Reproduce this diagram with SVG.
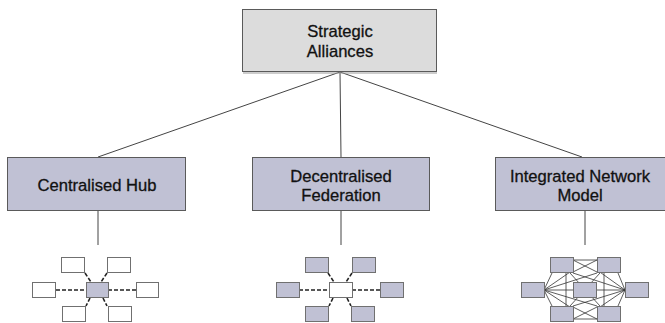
<svg xmlns="http://www.w3.org/2000/svg" width="665" height="323" viewBox="0 0 665 323">
  <style>
    .lbl { font-family: "Liberation Sans", Arial, sans-serif; font-size: 16.6px; fill: #111; stroke: #111; stroke-width: 0.3; text-anchor: middle; }
    .top { fill: #dcdcdc; stroke: #5a5a5a; stroke-width: 1; }
    .model { fill: #c0c1d4; stroke: #5a5a5a; stroke-width: 1; }
    .link { stroke: #444; stroke-width: 1; fill: none; }
    .mini-w { fill: #ffffff; stroke: #707070; stroke-width: 1; }
    .mini-f { fill: #c0c1d4; stroke: #707070; stroke-width: 1; }
    .dash { stroke: #222; stroke-width: 1.6; stroke-dasharray: 4 2; fill: none; }
    .mesh { stroke: #333; stroke-width: 0.8; fill: none; }
  </style>

  <rect width="665" height="323" fill="#ffffff"/>

  <!-- tree connectors -->
  <g id="connectors">
    <line class="link" x1="340" y1="72" x2="98" y2="157"/>
    <line class="link" x1="340" y1="72" x2="341" y2="157"/>
    <line class="link" x1="340" y1="72" x2="582" y2="157"/>
    <line class="link" x1="98" y1="211" x2="98" y2="245"/>
    <line class="link" x1="341" y1="211" x2="341" y2="245"/>
    <line class="link" x1="585" y1="211" x2="585" y2="245"/>
  </g>

  <g id="strategic-alliances">
    <line x1="243" y1="73" x2="437" y2="73" stroke="#9a9a9a" stroke-width="1"/>
    <rect class="top" x="242.5" y="9.5" width="194" height="62"/>
    <text class="lbl" x="340" y="37">Strategic</text>
    <text class="lbl" x="340" y="57">Alliances</text>
  </g>

  <g id="centralised-hub">
    <rect class="model" x="7.5" y="157.5" width="178" height="53"/>
    <text class="lbl" x="97" y="191">Centralised Hub</text>
  </g>

  <g id="decentralised-federation">
    <rect class="model" x="252.5" y="157.5" width="177" height="53"/>
    <text class="lbl" x="341" y="182">Decentralised</text>
    <text class="lbl" x="341" y="201">Federation</text>
  </g>

  <g id="integrated-network-model">
    <rect class="model" x="495.5" y="157.5" width="172" height="53"/>
    <text class="lbl" x="580" y="182">Integrated Network</text>
    <text class="lbl" x="580" y="201">Model</text>
  </g>

  <!-- hub: shaded centre, white satellites -->
  <g id="hub-sketch">
    <line class="dash" x1="56" y1="290" x2="86" y2="290"/>
    <line class="dash" x1="108" y1="290" x2="136" y2="290"/>
    <line class="dash" x1="85" y1="273" x2="91" y2="282"/>
    <line class="dash" x1="107" y1="273" x2="101" y2="282"/>
    <line class="dash" x1="90" y1="298" x2="86" y2="306"/>
    <line class="dash" x1="103" y1="298" x2="107" y2="306"/>
    <rect class="mini-w" x="61.5" y="257.5" width="23" height="15"/>
    <rect class="mini-w" x="107.5" y="257.5" width="23" height="15"/>
    <rect class="mini-w" x="32.5" y="282.5" width="23" height="15"/>
    <rect class="mini-f" x="86.5" y="282.5" width="22" height="15"/>
    <rect class="mini-w" x="136.5" y="282.5" width="22" height="15"/>
    <rect class="mini-w" x="62.5" y="306.5" width="23" height="15"/>
    <rect class="mini-w" x="108.5" y="306.5" width="23" height="15"/>
  </g>

  <!-- federation: white centre, shaded members -->
  <g id="federation-sketch">
    <line class="dash" x1="299" y1="290" x2="329" y2="290"/>
    <line class="dash" x1="352" y1="290" x2="380" y2="290"/>
    <line class="dash" x1="328" y1="273" x2="334" y2="282"/>
    <line class="dash" x1="352" y1="273" x2="346" y2="282"/>
    <line class="dash" x1="333" y1="298" x2="329" y2="306"/>
    <line class="dash" x1="347" y1="298" x2="351" y2="306"/>
    <rect class="mini-f" x="305.5" y="257.5" width="23" height="15"/>
    <rect class="mini-f" x="352.5" y="257.5" width="23" height="15"/>
    <rect class="mini-f" x="276.5" y="282.5" width="23" height="15"/>
    <rect class="mini-w" x="329.5" y="282.5" width="23" height="15"/>
    <rect class="mini-f" x="380.5" y="282.5" width="23" height="15"/>
    <rect class="mini-f" x="305.5" y="306.5" width="23" height="15"/>
    <rect class="mini-f" x="351.5" y="306.5" width="23" height="15"/>
  </g>

  <!-- integrated network: every member linked -->
  <g id="network-sketch">
    <g class="mesh">
      <!-- fans from the left and right members -->
      <path d="M544 290 L552 273 M544 290 L573 270 M544 290 L597 273 M544 290 L573 290 M544 290 L552 306 M544 290 L573 309 M544 290 L597 306"/>
      <path d="M625 290 L618 273 M625 290 L597 270 M625 290 L573 273 M625 290 L597 290 M625 290 L618 306 M625 290 L597 309 M625 290 L573 306"/>
      <!-- top pair and bottom pair -->
      <path d="M573 260 L597 260 M573 260 L597 272 M573 272 L597 260"/>
      <path d="M573 319 L597 319 M573 319 L597 307 M573 307 L597 319"/>
      <!-- vertical and crossing links through the middle -->
      <path d="M566 273 L566 306 M604 273 L604 306 M570 273 L600 306 M600 273 L570 306"/>
    </g>
    <rect class="mini-f" x="550.5" y="257.5" width="23" height="15"/>
    <rect class="mini-f" x="597.5" y="257.5" width="23" height="15"/>
    <rect class="mini-f" x="521.5" y="282.5" width="23" height="15"/>
    <rect class="mini-f" x="573.5" y="282.5" width="23" height="15"/>
    <rect class="mini-f" x="625.5" y="282.5" width="23" height="15"/>
    <rect class="mini-f" x="550.5" y="306.5" width="23" height="15"/>
    <rect class="mini-f" x="597.5" y="306.5" width="23" height="15"/>
  </g>
</svg>
